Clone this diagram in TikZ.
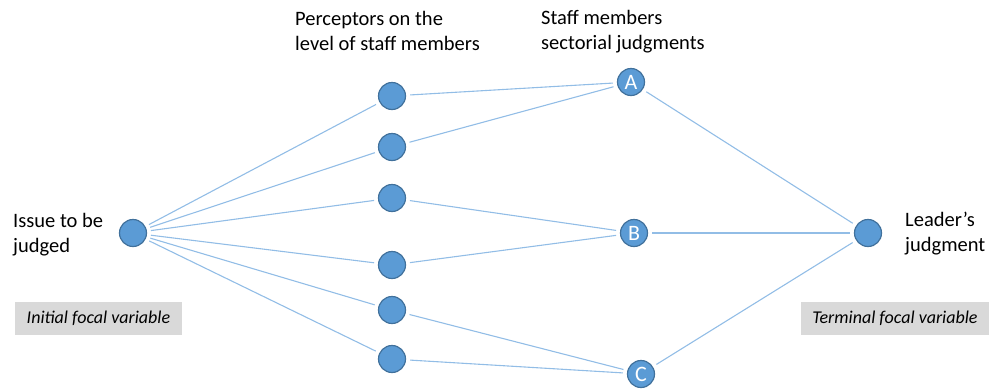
\documentclass[tikz,border=0pt]{standalone}
\usepackage{fontspec}
\setmainfont{Carlito}
\begin{document}
\begin{tikzpicture}[x=1pt,y=-1pt,
  dot/.style={circle,fill=nodefill,draw=nodeedge,line width=1.2pt,minimum size=27pt,inner sep=0pt,text=white,font=\fontsize{22}{22}\selectfont},
  conn/.style={draw=linecol,line width=1.1pt,shorten <=4pt,shorten >=4pt},
  lbl/.style={anchor=base west,font=\fontsize{20.5}{24}\selectfont,text=black,inner sep=0pt},
  tag/.style={fill=tagfill,font=\fontsize{18}{20}\selectfont\itshape,inner sep=0pt,minimum height=33pt}]
\definecolor{nodefill}{HTML}{5B9BD5}
\definecolor{nodeedge}{HTML}{41719C}
\definecolor{linecol}{HTML}{92BDE6}
\definecolor{tagfill}{HTML}{D9D9D9}
\useasboundingbox (0,0) rectangle (998,389);
% nodes
\node[dot] (I) at (133,233) {};
\node[dot] (p1) at (392,96) {};
\node[dot] (p2) at (392,147) {};
\node[dot] (p3) at (392,198) {};
\node[dot] (p4) at (392,265) {};
\node[dot] (p5) at (392,310) {};
\node[dot] (p6) at (392,359) {};
\node[dot] (A) at (631,82) {A};
\node[dot] (B) at (634,233) {B};
\node[dot] (C) at (641,374) {C};
\node[dot] (L) at (868,233) {};
% connectors
\foreach \p in {p1,p2,p3,p4,p5,p6} \draw[conn] (I) -- (\p);
\draw[conn] (p1) -- (A);
\draw[conn] (p2) -- (A);
\draw[conn] (p3) -- (B);
\draw[conn] (p4) -- (B);
\draw[conn] (p5) -- (C);
\draw[conn] (p6) -- (C);
\draw[conn] (A) -- (L);
\draw[conn] (B) -- (L);
\draw[conn] (C) -- (L);
% labels
\node[lbl] (t1) at (13,227.5) {Issue to be};
\node[lbl] (t2) at (13,252) {judged};
\node[lbl] (t3) at (295,25) {Perceptors on the};
\node[lbl] (t4) at (295,50) {level of staff members};
\node[lbl] (t5) at (541,24) {Staff members};
\node[lbl] (t6) at (541,49) {sectorial judgments};
\node[lbl] (t7) at (905,226.5) {Leader’s};
\node[lbl] (t8) at (905,251) {judgment};
\node[tag,minimum width=167pt] (g1) at (98.5,318.5) {Initial focal variable};
\node[tag,minimum width=188pt] (g2) at (895,318.5) {Terminal focal variable};
\end{tikzpicture}
\end{document}
